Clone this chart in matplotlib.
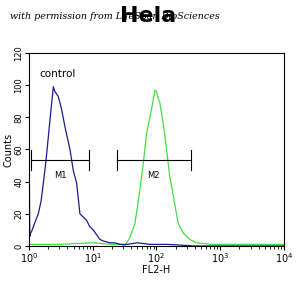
import numpy as np
import matplotlib.pyplot as plt
from matplotlib.ticker import LogLocator, NullFormatter

# control histogram (blue), FL2-H values and counts
ctrl_x = [1.0, 1.0, 1.03, 1.06, 1.1, 1.17, 1.25, 1.4, 1.55, 1.68, 1.85, 2.13, 2.3, 2.41, 2.55,
          2.88, 3.25, 3.67, 4.4, 4.95, 5.6, 6.3, 7.1, 8.0, 9.0, 10.2, 11.5, 13.0, 15.0, 18.6,
          22.0, 27.0, 35.0, 50.0, 80.0, 150.0, 400.0, 1000.0, 3000.0, 10000.0]
ctrl_y = [0, 71, 6, 8, 9, 12, 15, 20, 28, 39, 53, 78, 91, 99, 96,
          93, 85, 74, 60, 47, 39, 20, 18, 16, 12, 10, 7, 4, 3, 2,
          2, 1, 1, 2, 1, 1, 0, 0, 0, 0]

# stained sample histogram (green)
samp_x = [1.0, 3.0, 10.0, 20.0, 28.0, 32.0, 38.0, 46.0, 55.0, 62.0, 70.0, 79.0, 89.0, 95.0,
          100.7, 106.0, 113.0, 128.0, 144.0, 162.0, 184.0, 219.0, 263.0, 335.0, 427.0,
          700.0, 1500.0, 4000.0, 10000.0]
samp_y = [1, 1, 2, 1, 1, 0, 5, 14, 35, 51, 70, 80, 91, 97,
          96, 92, 89, 76, 60, 43, 31, 14, 8, 4, 2,
          1, 1, 1, 1]

# marker gates
gate_names = ['M1', 'M2']
gate_lo = [1.07, 23.7]
gate_hi = [8.8, 347.0]
gate_lvl = [53.5, 53.5]

fig = plt.figure(figsize=(3.05, 2.96), dpi=100)
ax = fig.add_axes([0.095, 0.169, 0.836, 0.652])

ax.plot(samp_x, samp_y, color='#44dd44', lw=0.9)
ax.plot(ctrl_x, ctrl_y, color='#1c1c90', lw=0.9)

for name, lo, hi, lvl in zip(gate_names, gate_lo, gate_hi, gate_lvl):
    ax.plot([lo, hi], [lvl, lvl], color='black', lw=0.8)
    ax.plot([lo, lo], [lvl - 6, lvl + 6], color='black', lw=0.8)
    ax.plot([hi, hi], [lvl - 6, lvl + 6], color='black', lw=0.8)
    ax.text(np.sqrt(lo * hi), lvl - 7, name, ha='center', va='top', fontsize=6)

ax.text(1.45, 107, 'control', fontsize=7.5, ha='left', va='center')

ax.set_xscale('log')
ax.set_xlim(1, 10000)
ax.set_ylim(0, 120)
ax.set_yticks(range(0, 121, 20))
ax.tick_params(axis='y', labelsize=6, rotation=90, length=3, pad=1)
ax.tick_params(axis='x', labelsize=7, length=3, pad=1)
ax.tick_params(which='minor', length=2)
ax.xaxis.set_minor_locator(LogLocator(base=10, subs=np.arange(2, 10)))
ax.xaxis.set_minor_formatter(NullFormatter())
for lab in ax.get_yticklabels():
    lab.set_va('center')
ax.set_xlabel('FL2-H', fontsize=7, labelpad=0)
ax.set_ylabel('Counts', fontsize=7, labelpad=1)

# watermark sits under the title, as in the source image
fig.text(0.033, 0.943, 'with permission from LifeSpan BioSciences', fontsize=6.8,
         family='DejaVu Serif', style='italic', va='center', ha='left')
fig.text(0.485, 0.945, 'Hela', fontsize=16, fontweight='bold', ha='center', va='center')

fig.savefig('out.png', dpi=100)
